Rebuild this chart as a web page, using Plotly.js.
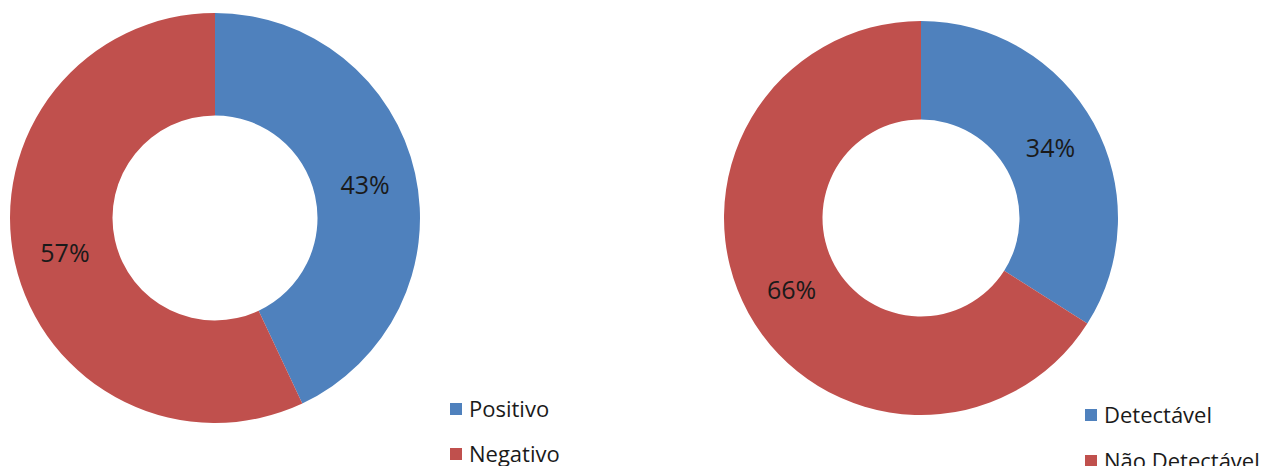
<!DOCTYPE html>
<html><head><meta charset="utf-8">
<script src="https://cdn.plot.ly/plotly-3.0.1.min.js"></script>
<style>html,body{margin:0;padding:0;background:#fff}#chart{width:1277px;height:466px}</style>
</head><body><div id="chart"></div>
<script>
const labelsA = ["Positivo", "Negativo"];
const valuesA = [43, 57];
const labelsB = ["Detectável", "Não Detectável"];
const valuesB = [34, 66];
const colors = ["#4F81BD", "#C0504D"];

const W = 1277, H = 466;
const FONT = "Open Sans, Liberation Sans, sans-serif";

function pie(labels, values, x0, x1, yTop, yBot) {
  return {
    type: "pie", labels: labels, values: values, sort: false,
    direction: "clockwise", rotation: 0, hole: 0.5,
    marker: {colors: colors, line: {color: "#fff", width: 0}},
    textinfo: "percent", textposition: "inside", insidetextorientation: "horizontal",
    texttemplate: "%{percent:.0%}",
    textfont: {family: FONT, size: 25, color: "#1a1a1a"},
    hoverinfo: "label+percent", showlegend: false,
    domain: {x: [x0 / W, x1 / W], y: [1 - yBot / H, 1 - yTop / H]}
  };
}

const data = [
  pie(labelsA, valuesA, 10, 420, 13, 423),
  pie(labelsB, valuesB, 724, 1118, 21, 415)
];

const shapes = [], annotations = [];
function legend(labels, x, yFirst, gap) {
  labels.forEach((lab, i) => {
    const yc = yFirst + i * gap;
    shapes.push({type: "rect", xref: "paper", yref: "paper",
      x0: x / W, x1: (x + 12) / W, y0: 1 - (yc + 6) / H, y1: 1 - (yc - 6) / H,
      fillcolor: colors[i], line: {width: 0}});
    annotations.push({xref: "paper", yref: "paper", x: (x + 17) / W, y: 1 - (yc - 1) / H,
      xanchor: "left", yanchor: "middle", showarrow: false, text: lab,
      font: {family: FONT, size: 22, color: "#1a1a1a"}});
  });
}
legend(labelsA, 450, 409, 45);
legend(labelsB, 1085, 415, 46);

Plotly.newPlot("chart", data, {
  width: W, height: H, margin: {l: 0, r: 0, t: 0, b: 0},
  paper_bgcolor: "#fff", showlegend: false,
  shapes: shapes, annotations: annotations
}, {displayModeBar: false, staticPlot: true});
</script></body></html>
